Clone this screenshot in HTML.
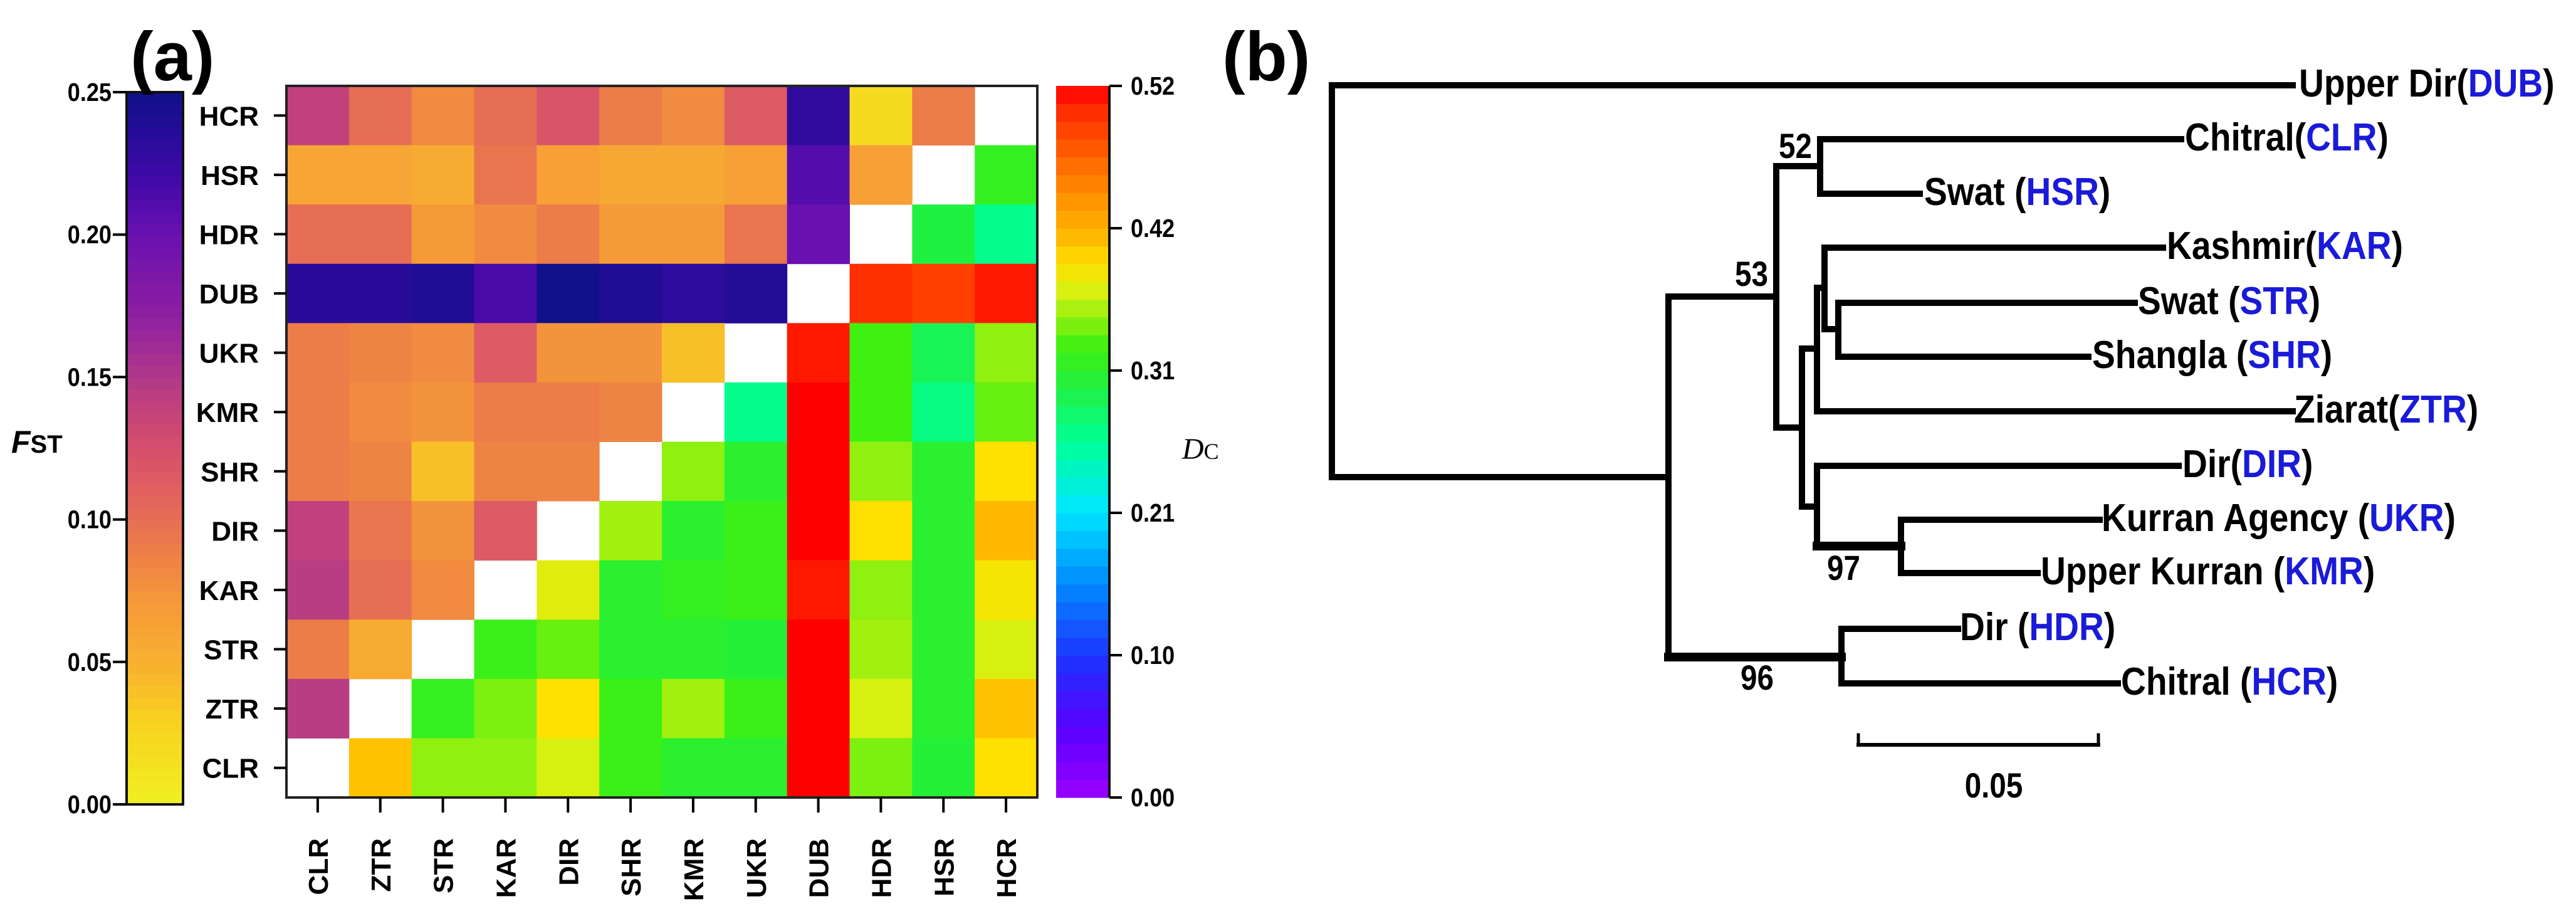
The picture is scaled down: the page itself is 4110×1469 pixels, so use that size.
<!DOCTYPE html>
<html><head><meta charset="utf-8"><style>
html,body{margin:0;padding:0;background:#fff;width:4110px;height:1469px;overflow:hidden}
svg{display:block;font-family:"Liberation Sans",Arial,sans-serif}
</style></head><body>
<svg id="fig" width="4110" height="1469" viewBox="0 0 4110 1469" xmlns="http://www.w3.org/2000/svg">
<g id="panelA"></g>
<g id="panelB"></g>
</svg>
<script>
const pops = ["CLR","ZTR","STR","KAR","DIR","SHR","KMR","UKR","DUB","HDR","HSR","HCR"];
const rowLabels = ["HCR","HSR","HDR","DUB","UKR","KMR","SHR","DIR","KAR","STR","ZTR","CLR"];
// FST values (upper-left triangle), rows top->bottom, cols CLR..HCR
const fstHCR = [0.14,0.10,0.08,0.10,0.12,0.09,0.08,0.115,0.23,0.02,0.09];
const fstHSR = [0.06,0.06,0.055,0.095,0.065,0.058,0.058,0.065,0.21,0.065];
const fstHDR = [0.10,0.10,0.07,0.08,0.09,0.07,0.07,0.095,0.20];
const fstDUB = [0.235,0.235,0.24,0.215,0.25,0.24,0.232,0.238];
const fstUKR = [0.09,0.085,0.08,0.115,0.075,0.075,0.04];
const fstKMR = [0.09,0.08,0.075,0.09,0.09,0.085];
const fstSHR = [0.09,0.085,0.04,0.085,0.085];
const fstDIR = [0.14,0.095,0.075,0.115];
const fstKAR = [0.145,0.10,0.08];
const fstSTR = [0.09,0.055];
const fstZTR = [0.145];
const fstCLR = [];
// DC values (lower-right triangle), listed for columns after the diagonal
const dcHCR = [];
const dcHSR = [0.32];
const dcHDR = [0.30,0.265];
const dcDUB = [0.50,0.49,0.51];
const dcUKR = [0.51,0.33,0.29,0.35];
const dcKMR = [0.265,0.52,0.33,0.27,0.34];
const dcSHR = [0.35,0.31,0.52,0.35,0.31,0.39];
const dcDIR = [0.355,0.31,0.325,0.52,0.39,0.31,0.41];
const dcKAR = [0.375,0.31,0.32,0.325,0.51,0.35,0.31,0.385];
const dcSTR = [0.325,0.34,0.31,0.31,0.305,0.52,0.355,0.31,0.37];
const dcZTR = [0.32,0.345,0.39,0.325,0.355,0.325,0.52,0.37,0.31,0.405];
const dcCLR = [0.405,0.35,0.35,0.37,0.325,0.31,0.31,0.52,0.345,0.305,0.39];
const fstRows = [fstHCR,fstHSR,fstHDR,fstDUB,fstUKR,fstKMR,fstSHR,fstDIR,fstKAR,fstSTR,fstZTR,fstCLR];
const dcRows = [dcHCR,dcHSR,dcHDR,dcDUB,dcUKR,dcKMR,dcSHR,dcDIR,dcKAR,dcSTR,dcZTR,dcCLR];
const fstTicks = ["0.00","0.05","0.10","0.15","0.20","0.25"];
const fstTickVals = [0,0.05,0.10,0.15,0.20,0.25];
const dcTicks = ["0.00","0.10","0.21","0.31","0.42","0.52"];
const dcTickVals = [0,0.104,0.208,0.312,0.416,0.52];

const NS="http://www.w3.org/2000/svg";
function mk(tag,attrs,parent){const e=document.createElementNS(NS,tag);for(const k in attrs)e.setAttribute(k,attrs[k]);parent.appendChild(e);return e;}
function hex(h){return [parseInt(h.slice(1,3),16),parseInt(h.slice(3,5),16),parseInt(h.slice(5,7),16)];}
function ramp(stops,v){
  if(v<=stops[0][0])return stops[0][1];
  for(let i=1;i<stops.length;i++){if(v<=stops[i][0]){const a=stops[i-1],b=stops[i];const t=(v-a[0])/(b[0]-a[0]);const ca=hex(a[1]),cb=hex(b[1]);return "rgb("+ca.map((c,k)=>Math.round(c+(cb[k]-c)*t)).join(",")+")";}}
  return stops[stops.length-1][1];
}
const fstStops=[[0,"#f0f020"],[0.03,"#f8d020"],[0.05,"#f8b030"],[0.07,"#f59a38"],[0.09,"#ec7c48"],[0.11,"#e06060"],[0.13,"#d04a70"],[0.15,"#b03888"],[0.17,"#9020a0"],[0.20,"#6a10b0"],[0.22,"#4008a8"],[0.25,"#10108a"]];
const dcStops=[[0,"#9a00ff"],[0.05,"#5a00ff"],[0.10,"#2030ff"],[0.16,"#0090ff"],[0.21,"#00e8ff"],[0.26,"#00ff98"],[0.30,"#20f040"],[0.33,"#40f010"],[0.35,"#90f010"],[0.37,"#d8f010"],[0.39,"#ffe000"],[0.41,"#ffb800"],[0.44,"#ff9000"],[0.47,"#ff6000"],[0.50,"#ff3000"],[0.52,"#ff0000"]];

// ---------- Panel A ----------
const A=document.getElementById('panelA');
const hx0=457,hx1=1655,hy0=137,hy1=1272;
const cw=(hx1-hx0)/12,ch=(hy1-hy0)/12;
const colX=i=>hx0+i*cw, rowY=r=>hy0+r*ch;
for(let r=0;r<12;r++){
  const diag=11-r;
  fstRows[r].forEach((v,c)=>{
    const e=mk('rect',{x:colX(c),y:rowY(r),width:cw+0.5,height:ch+0.5,fill:ramp(fstStops,v)},A);
    
    
  });
  dcRows[r].forEach((v,k)=>{
    const c=diag+1+k;
    const e=mk('rect',{x:colX(c),y:rowY(r),width:cw+0.5,height:ch+0.5,fill:ramp(dcStops,v)},A);
    
    
  });
}
let fr=mk('rect',{x:hx0,y:hy0,width:hx1-hx0,height:hy1-hy0,fill:'none',stroke:'#222','stroke-width':4},A);

rowLabels.forEach((l,r)=>{
  const y=rowY(r)+ch/2;
  mk('line',{x1:hx0-20,x2:hx0,y1:y,y2:y,stroke:'#000','stroke-width':4},A);
  const t=mk('text',{x:413,y:y+16,'text-anchor':'end','font-size':44,'font-weight':'bold'},A);t.textContent=l;
  
});
pops.forEach((l,c)=>{
  const x=colX(c)+cw/2;
  mk('line',{x1:x,x2:x,y1:hy1,y2:hy1+24,stroke:'#000','stroke-width':4},A);
  const t=mk('text',{transform:`translate(${x+16},1337) rotate(-90)`,'text-anchor':'end','font-size':44,'font-weight':'bold'},A);t.textContent=l;
  
});
// FST colorbar
const fb={x:202,w:90,y0:147,y1:1283};
const fy=v=>fb.y1-(v/0.25)*(fb.y1-fb.y0);
for(let i=0;i<60;i++){const v=(i+0.5)/60*0.25;mk('rect',{x:fb.x,y:fy((i+1)/60*0.25),width:fb.w,height:(fb.y1-fb.y0)/60+0.6,fill:ramp(fstStops,v)},A);}
fr=mk('rect',{x:fb.x,y:fb.y0,width:fb.w,height:fb.y1-fb.y0,fill:'none',stroke:'#111','stroke-width':4},A);

fstTicks.forEach((l,i)=>{const y=fy(fstTickVals[i]);mk('line',{x1:180,x2:fb.x,y1:y,y2:y,stroke:'#000','stroke-width':4},A);
  const t=mk('text',{transform:`translate(178,${y+14}) scale(0.88,1)`,'text-anchor':'end','font-size':41,'font-weight':'bold'},A);t.textContent=l;
  });
let t=mk('text',{x:18,y:722,'font-size':50,'font-weight':'bold'},A);
t.innerHTML='<tspan font-style="italic">F</tspan><tspan font-size="40">ST</tspan>';

// DC colorbar
const db={x:1685,w:85,y0:137,y1:1272};
const dy=v=>db.y1-(v/0.52)*(db.y1-db.y0);
for(let i=0;i<40;i++){const v=(i+0.5)/40*0.52;mk('rect',{x:db.x,y:dy((i+1)/40*0.52),width:db.w,height:(db.y1-db.y0)/40+0.6,fill:ramp(dcStops,v)},A);}
fr=mk('line',{x1:db.x+db.w,x2:db.x+db.w,y1:db.y0,y2:db.y1,stroke:'#111','stroke-width':4},A);

dcTicks.forEach((l,i)=>{const y=dy(dcTickVals[i]);mk('line',{x1:db.x+db.w,x2:db.x+db.w+20,y1:y,y2:y,stroke:'#000','stroke-width':4},A);
  const t=mk('text',{transform:`translate(1804,${y+14}) scale(0.88,1)`,'font-size':41,'font-weight':'bold'},A);t.textContent=l;
  });
t=mk('text',{x:1886,y:732,'font-size':48,'font-family':'Liberation Serif, serif'},A);
t.innerHTML='<tspan font-style="italic">D</tspan><tspan font-size="36">C</tspan>';

t=mk('text',{x:208,y:128,'font-size':110,'font-weight':'bold'},A);t.textContent='(a)';


// ---------- Panel B ----------
const B=document.getElementById('panelB');
function seg(x1,y1,x2,y2,w){mk('line',{x1,y1,x2,y2,stroke:'#000','stroke-width':w||10,'stroke-linecap':'square'},B);}
seg(2125,136,2125,761);seg(2125,136,3658,136);
seg(2125,761,2662,761);
seg(2662,473,2662,1048);
seg(2662,473,2834,473);
seg(2834,265,2834,682);
seg(2834,265,2904,265);seg(2904,222,2904,309);
seg(2904,222,3480,222);seg(2904,309,3063,309);
seg(2834,682,2875,682);seg(2875,556,2875,808);
seg(2875,556,2899,556);seg(2899,459,2899,656);
seg(2899,459,2911,459);seg(2911,395,2911,525);
seg(2911,395,3451,395);
seg(2911,525,2933,525);seg(2933,483,2933,569);
seg(2933,483,3406,483);seg(2933,569,3332,569);
seg(2899,656,3658,656);
seg(2875,808,2899,808);seg(2899,743,2899,871);
seg(2899,743,3476,743);
seg(2899,871,3033,871,14);seg(3033,829,3033,914);
seg(3033,829,3350,829);seg(3033,914,3251,914);
seg(2662,1048,2938,1048,14);seg(2938,1003,2938,1090);
seg(2938,1003,3124,1003);seg(2938,1090,3379,1090);
const leaves=[["Upper Dir","DUB",3668,154],["Chitral","CLR",3486,240],["Swat ","HSR",3070,327],["Kashmir","KAR",3457,413],["Swat ","STR",3411,501],["Shangla ","SHR",3338,587],["Ziarat","ZTR",3660,674],["Dir","DIR",3482,761],["Kurran Agency ","UKR",3353,847],["Upper Kurran ","KMR",3256,932],["Dir ","HDR",3127,1021],["Chitral ","HCR",3384,1108]];
leaves.forEach(L=>{
  const t=mk('text',{transform:`translate(${L[2]},${L[3]}) scale(0.89,1)`,'font-size':62,'font-weight':'bold'},B);
  t.innerHTML=`${L[0].replace(/ $/,'&#160;')}(<tspan fill="#1a1ad8">${L[1]}</tspan>)`;
  
});
[["52",2838,252],["53",2768,456],["97",2915,925],["96",2777,1100]].forEach(b=>{
  const t=mk('text',{transform:`translate(${b[1]},${b[2]}) scale(0.85,1)`,'font-size':56,'font-weight':'bold'},B);t.textContent=b[0];
  
});
seg(2965,1188,3348,1188,6);seg(2965,1172,2965,1188,5);seg(3348,1172,3348,1188,5);
t=mk('text',{transform:'translate(3181,1272) scale(0.85,1)','text-anchor':'middle','font-size':56,'font-weight':'bold'},B);t.textContent='0.05';

t=mk('text',{x:1950,y:128,'font-size':110,'font-weight':'bold'},B);t.textContent='(b)';

</script>
</body></html>
